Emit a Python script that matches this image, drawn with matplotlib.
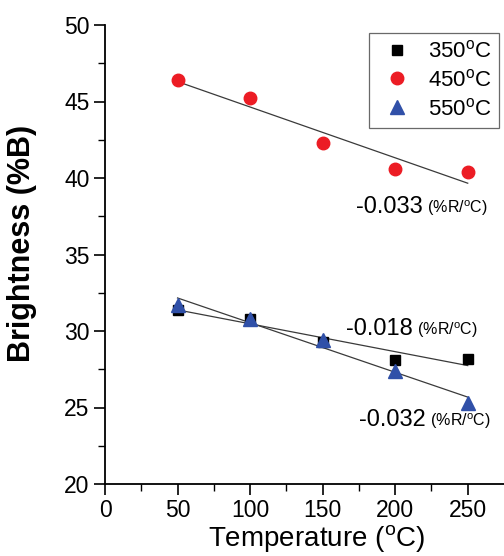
import matplotlib
matplotlib.use("Agg")
import matplotlib.pyplot as plt
import numpy as np

plt.rcParams["font.family"] = ["Liberation Sans", "DejaVu Sans"]
plt.rcParams["mathtext.default"] = "regular"

temperature = [50, 100, 150, 200, 250]
b_350 = [31.4, 30.8, 29.3, 28.1, 28.2]
b_450 = [46.4, 45.2, 42.3, 40.6, 40.4]
b_550 = [31.7, 30.8, 29.4, 27.4, 25.3]

series = [
    ("350$^{o}$C", b_350, "s", "#000000", 7.5),
    ("450$^{o}$C", b_450, "o", "#ec1c24", 9),
    ("550$^{o}$C", b_550, "^", "#3050a8", 9.5),
]

slope_labels = [
    ("-0.018", 166, 30.1),
    ("-0.033", 173, 38.1),
    ("-0.032", 175, 24.2),
]

fig = plt.figure(figsize=(5.04, 5.56), dpi=100)
ax = fig.add_axes([105 / 504, 1 - 484 / 556, 399 / 504, 459 / 556])

x = np.array(temperature)
for label, vals, marker, color, ms in series:
    ax.plot(x, vals, linestyle="none", marker=marker, color=color,
            markersize=ms, label=label, zorder=3)
    # linear fit drawn over the measured range
    k, b = np.polyfit(x, vals, 1)
    ax.plot(x, k * x + b, color="#3a3a3a", lw=0.9, zorder=2)

for value, tx, ty in slope_labels:
    t = ax.text(tx, ty, value, fontsize=17, va="center", ha="left")
    ax.annotate(" (%R/$^{o}$C)", xycoords=t, xy=(1, 0.45), va="center",
                ha="left", fontsize=11.5)

ax.set_xlim(0, 275)
ax.set_ylim(20, 50)
ax.set_xticks([0, 50, 100, 150, 200, 250])
ax.set_xticks(np.arange(25, 275, 50), minor=True)
ax.set_yticks([20, 25, 30, 35, 40, 45, 50])
ax.set_yticks(np.arange(22.5, 50, 5), minor=True)
ax.tick_params(which="major", direction="out", length=8, width=1.2,
               labelsize=16.5, pad=3)
ax.tick_params(which="minor", direction="out", length=5, width=1.0)
for side in ["top", "right"]:
    ax.spines[side].set_visible(False)
for side in ["left", "bottom"]:
    ax.spines[side].set_linewidth(1.3)

ax.set_xlabel("Temperature ($^{o}$C)", fontsize=20)
ax.xaxis.set_label_coords(0.53, -0.085)
ax.set_ylabel("Brightness (%B)", fontsize=22, fontweight="bold")
ax.yaxis.set_label_coords(-0.17, 0.525)

leg = ax.legend(loc="upper right", bbox_to_anchor=(0.988, 0.983),
                fontsize=16, frameon=True, fancybox=False,
                handletextpad=0.5, borderpad=0.35, labelspacing=0.3,
                handlelength=1.8, borderaxespad=0)
leg.get_frame().set_edgecolor("#444444")
leg.get_frame().set_linewidth(0.9)

fig.savefig("out.png", dpi=100)
